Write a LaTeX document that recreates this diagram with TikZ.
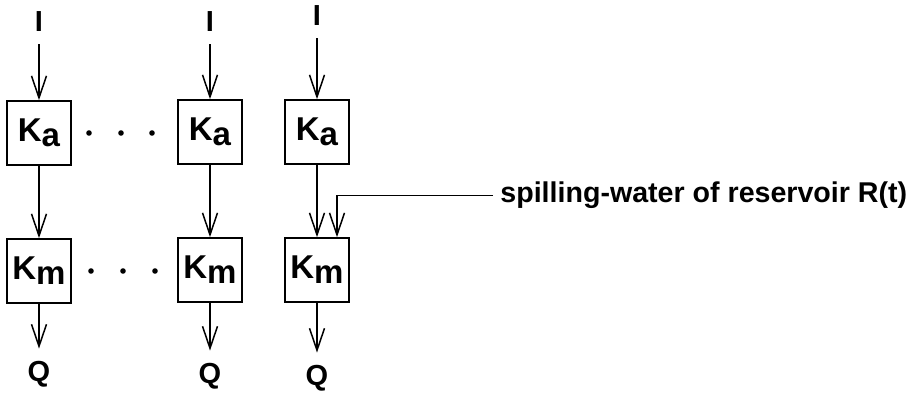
\documentclass[tikz,border=0pt]{standalone}
\usepackage{fontspec}
\setmainfont{Liberation Sans}
\usetikzlibrary{arrows.meta}

\begin{document}
\begin{tikzpicture}[x=0.5pt, y=-0.5pt,
    blk/.style={draw, line width=0.8pt, minimum width=32pt, minimum height=32pt, inner sep=0pt, font=\bfseries\fontsize{16.5}{18}\selectfont},
    lbl/.style={inner sep=6pt, font=\bfseries\fontsize{14.5}{18}\selectfont},
    flow/.style={-{Straight Barb[length=11pt, width=7.5pt]}, line width=0.75pt}
  ]
    \useasboundingbox (0,0) rectangle (911,394);

    \node[lbl] (in1) at (39,22) {I};
    \node[lbl] (in2) at (210,22) {I};
    \node[lbl] (in3) at (317,16) {I};

    \node[blk] (ka1) at (39,133) {K\raisebox{-2.5pt}{a}};
    \node[blk] (ka2) at (210,132) {K\raisebox{-2.5pt}{a}};
    \node[blk] (ka3) at (317,132) {K\raisebox{-2.5pt}{a}};

    \node[blk] (km1) at (39,271) {K\raisebox{-2.5pt}{m}};
    \node[blk] (km2) at (210,270) {K\raisebox{-2.5pt}{m}};
    \node[blk] (km3) at (317,270) {K\raisebox{-2.5pt}{m}};

    \node[lbl] (q1) at (39,374) {Q};
    \node[lbl] (q2) at (210,376) {Q};
    \node[lbl] (q3) at (317,378) {Q};

    \node[lbl, anchor=base west, inner xsep=3.5pt, inner ysep=0pt, font=\bfseries\fontsize{14.3}{18}\selectfont] (spill) at (493,203) {spilling-water of reservoir R(t)};

    \draw[flow] (in1) -- (ka1);
    \draw[flow] (in2) -- (ka2);
    \draw[flow] (in3) -- (ka3);
    \draw[flow] (ka1) -- (km1);
    \draw[flow] (ka2) -- (km2);
    \draw[flow] (ka3) -- (km3);
    \draw[flow] (km1) -- (q1);
    \draw[flow] (km2) -- (q2);
    \draw[flow] (km3) -- (q3);
    \draw[flow] (spill.west) -| ([xshift=10pt]km3.north);

    % dots between the columns
    \foreach \x in {89,121,152} \fill (\x,133) circle (1.4pt);
    \foreach \x in {91,123,155} \fill (\x,271) circle (1.4pt);
  \end{tikzpicture}
\end{document}
